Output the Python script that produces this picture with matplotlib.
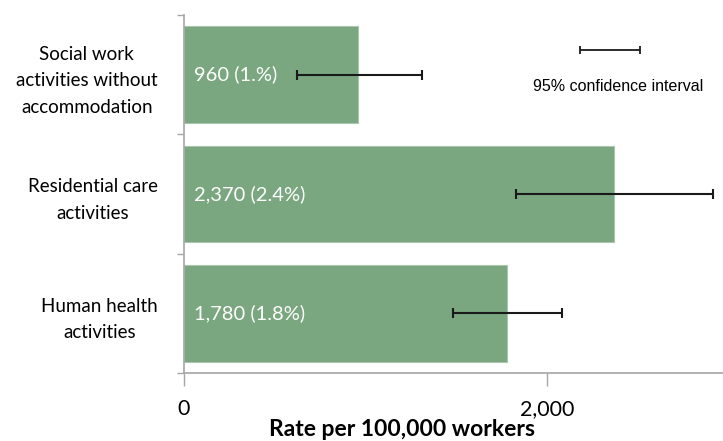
import numpy as np
import matplotlib.pyplot as plt

# Rates per 100,000 workers by sector, with 95% confidence limits
sectors = ['Human health\nactivities',
           'Residential care\nactivities',
           'Social work\nactivities without\naccommodation']
rates = [1780, 2370, 960]
labels = ['1,780 (1.8%)', '2,370 (2.4%)', '960 (1.%)']
ci_low = [1482, 1829, 623]
ci_high = [2083, 2915, 1311]

bar_color = '#7aa680'
axis_grey = '#a6a6a6'

plt.rcParams['font.family'] = ['Lato', 'DejaVu Sans']

fig = plt.figure(figsize=(7.23, 4.41), dpi=100)
ax = fig.add_axes([184 / 723, 1 - 373 / 441, 539 / 723, 358 / 441])

y = np.arange(len(sectors))

ax.barh(y, rates, height=0.81, color=bar_color, edgecolor='#a9c7ad', linewidth=0.8, zorder=2)
for yi, lo, hi in zip(y, ci_low, ci_high):
    half = (hi - lo) / 2
    ax.errorbar([lo + half], [yi], xerr=[[half], [half]],
                fmt='none', ecolor='#1a1a1a', elinewidth=1.5, capsize=3.5, capthick=1.5, zorder=3)

for yi, txt in zip(y, labels):
    ax.text(55, yi, txt, color='white', fontsize=14.5, va='center', ha='left', zorder=4)

# legend-style confidence interval marker
lx0, lx1 = 2182, 2512
half = (lx1 - lx0) / 2
ax.errorbar([lx0 + half], [2.207], xerr=[[half], [half]],
            fmt='none', ecolor='#1a1a1a', elinewidth=1.3, capsize=3, capthick=1.3)
ax.text(2390, 1.897, '95% confidence interval', fontsize=11.5, ha='center', va='center',
        family=['Liberation Sans', 'DejaVu Sans'])

ax.set_xlim(0, 2970)
ax.set_ylim(-0.5, 2.5)

ax.set_xticks([0, 2000])
ax.set_xticklabels(['0', '2,000'], fontsize=15.5)
ax.set_yticks([-0.5, 0.5, 1.5, 2.5], minor=False)
ax.set_yticklabels([])
ax.set_yticks(y, minor=True)
ax.set_yticklabels(sectors, minor=True, fontsize=13.5, multialignment='center', linespacing=1.66)
ax.tick_params(axis='y', which='minor', length=0, pad=19)
ax.tick_params(axis='y', which='major', length=5, color=axis_grey, width=1)
ax.tick_params(axis='x', length=9, color=axis_grey, width=1, pad=10)

for side in ['top', 'right']:
    ax.spines[side].set_visible(False)
for side in ['left', 'bottom']:
    ax.spines[side].set_color(axis_grey)
    ax.spines[side].set_linewidth(1.2)

ax.set_xlabel('Rate per 100,000 workers', fontsize=16.5, fontweight='bold')
ax.xaxis.set_label_coords(0.404, -0.128)

fig.savefig('out.png', dpi=100)
